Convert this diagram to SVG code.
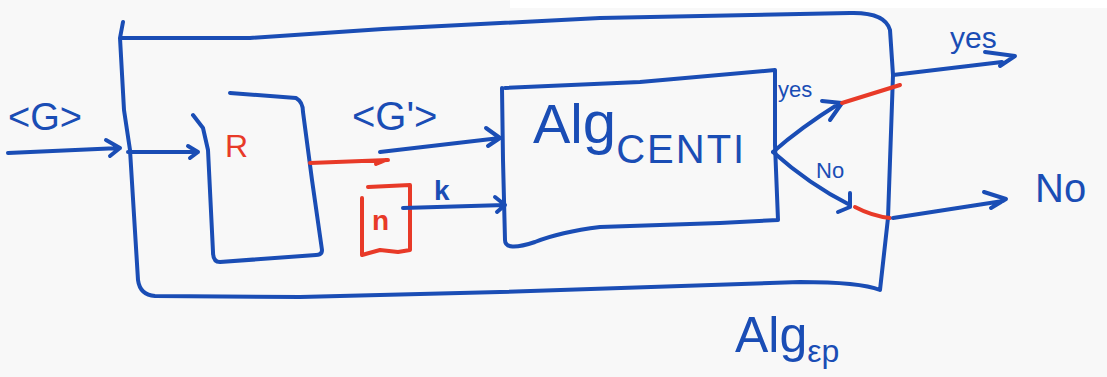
<svg xmlns="http://www.w3.org/2000/svg" width="1107" height="377" viewBox="0 0 1107 377">
<style>
.b{fill:none;stroke:#1a4db5;stroke-width:4;stroke-linecap:round;stroke-linejoin:round}
.r{fill:none;stroke:#e83a28;stroke-width:4;stroke-linecap:round;stroke-linejoin:round}
.tb{fill:#1a4db5;font-family:"Liberation Sans",sans-serif}
.tr{fill:#e83a28;font-family:"Liberation Sans",sans-serif}
</style>
<rect width="1107" height="377" fill="#f8f8f8"/>
<rect x="510" y="0" width="597" height="8" fill="#ffffff"/>
<g id="outer">
<path class="b" d="M123,22 L120,38 L130,38 L250,38 L383,29 L600,18 L850,13 Q885,12 890,30 L893,75 L888,218 L880,290 Q860,282 800,282 L500,292 L300,297 L155,296 Q140,295 138,280 L130,150 L124,110 L120,38"/>
<text class="tb" x="735" y="352" font-size="50">Alg<tspan font-size="32" dy="10">εp</tspan></text>
</g>
<g id="R">
<path class="b" d="M230,93 L296,98 Q303,102 303,112 L312,180 L322,250 Q322,255 316,255 L220,262 Q213,262 213,252 L208,150 L203,128 L193,115"/>
<text class="tr" x="225" y="157" font-size="32">R</text>
</g>
<g id="n">
<path class="r" d="M368,187 L410,185 L410,250 L398,252 L380,250 L362,255 L362,198"/>
<text class="tr" x="372" y="230" font-size="28" font-weight="bold">n</text>
</g>
<g id="alg">
<path class="b" d="M505,88 L640,82 L775,70 L775,145 L778,220 L720,223 L600,227 Q560,232 535,242 Q505,252 505,240 L503,160 L502,88"/>
<text class="tb" x="533" y="143" font-size="56">Al<tspan font-size="60">g</tspan><tspan font-size="40" dy="20" letter-spacing="2">CENTI</tspan></text>
</g>
<g id="connectors">
<path class="b" d="M8,153 L120,148 M106,140 L120,148 L110,156"/>
<path class="b" d="M128,152 L198,152 M188,146 L198,152 L190,158"/>
<path class="r" d="M310,163 L388,160 M376,164 L386,160"/>
<path class="b" d="M380,152 L500,138 M486,128 L500,138 L488,146"/>
<path class="b" d="M403,208 L505,205 M495,197 L505,205 L497,212"/>
<path class="b" d="M773,152 Q800,128 840,103 M822,101 L842,103 L830,120"/>
<path class="r" d="M842,103 L900,85"/>
<path class="b" d="M773,152 Q810,185 850,205 M850,193 L850,207 L838,212"/>
<path class="r" d="M855,207 Q872,216 890,218"/>
<path class="b" d="M893,75 L1002,62 M985,52 L1015,56 L1000,66"/>
<path class="b" d="M893,218 L1003,201 M984,192 L1006,199 L991,208"/>
</g>
<g id="labels">
<text class="tb" x="8" y="130" font-size="38">&lt;G&gt;</text>
<text class="tb" x="352" y="130" font-size="40">&lt;G'&gt;</text>
<text class="tb" x="434" y="200" font-size="28" font-weight="bold">k</text>
<text class="tb" x="778" y="97" font-size="22">yes</text>
<text class="tb" x="816" y="178" font-size="22">No</text>
<text class="tb" x="950" y="48" font-size="30">yes</text>
<text class="tb" x="1035" y="202" font-size="40">No</text>
</g>
</svg>
